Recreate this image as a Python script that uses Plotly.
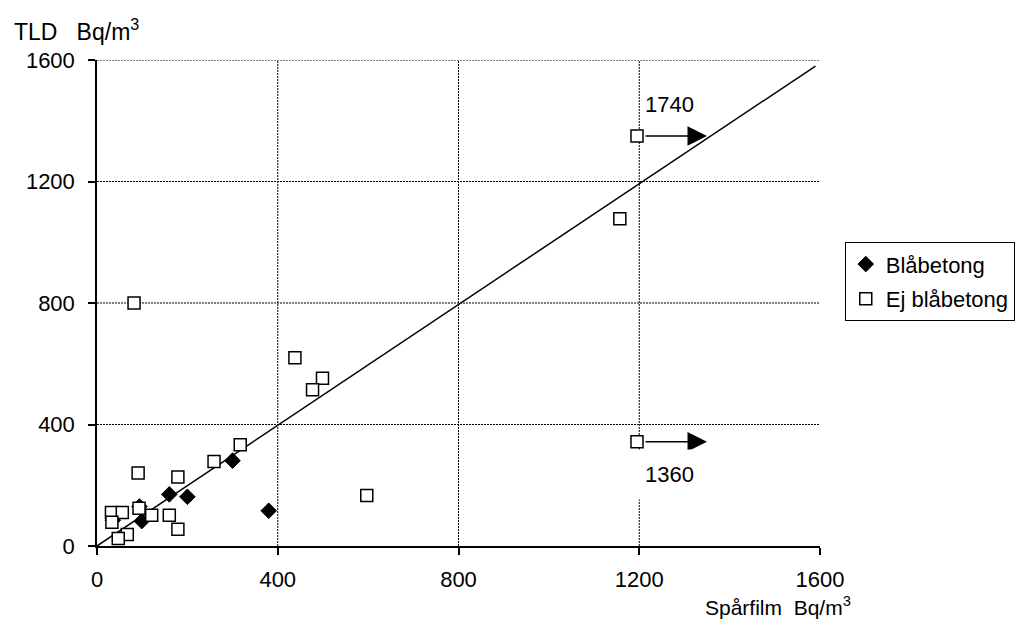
import plotly.graph_objects as go

# Data
bla_x = [300, 160, 200, 380, 99, 94, 35]
bla_y = [281, 170, 162, 116, 82, 130, 85]

ej_x = [82, 438, 499, 477, 317, 259, 91, 179, 597, 93, 121, 160, 179,
        32, 56, 33, 67, 47, 1157, 1195, 1195]
ej_y = [800, 620, 552, 514, 333, 278, 240, 227, 166, 124, 101, 101, 55,
        110, 110, 78, 38, 25, 1077, 1350, 343]

line_x = [0, 1590]
line_y = [0, 1580]

tick_vals = [0, 400, 800, 1200, 1600]
grid_x = [400, 800, 1200]
grid_y = [400, 800, 1200, 1600]

# off-scale points: (x, y, arrow tip x, true value label, label y)
arrow_pts = [(1195, 1350, 1350, "1740", 1455), (1195, 343, 1350, "1360", 237)]

FONT = "Liberation Sans, Arial, sans-serif"
FS = 22

fig = go.Figure()

fig.add_trace(go.Scatter(
    x=line_x, y=line_y, mode="lines", line=dict(color="black", width=1.5),
    showlegend=False, hoverinfo="skip"))

fig.add_trace(go.Scatter(
    x=bla_x, y=bla_y, mode="markers", name="Blåbetong", legendgroup="a",
    marker=dict(symbol="diamond", size=12, color="black",
                line=dict(color="black", width=1))))

fig.add_trace(go.Scatter(
    x=ej_x, y=ej_y, mode="markers", name="Ej blåbetong", legendgroup="b",
    marker=dict(symbol="square", size=12, color="white",
                line=dict(color="black", width=1.5))))

shapes = []
for gx in grid_x:
    shapes.append(dict(type="line", xref="x", yref="y", x0=gx, x1=gx, y0=0, y1=1600,
                       line=dict(color="black", width=1, dash="2px,1px"), layer="below"))
for gy in grid_y:
    shapes.append(dict(type="line", xref="x", yref="y", x0=0, x1=1600, y0=gy, y1=gy,
                       line=dict(color="black", width=1, dash="2px,1px"), layer="below"))

annotations = []
for (px, py, tip, lab, ly) in arrow_pts:
    annotations.append(dict(
        x=tip, y=py, ax=px, ay=py, xref="x", yref="y", axref="x", ayref="y",
        showarrow=True, arrowhead=2, arrowsize=2.6, arrowwidth=1.5,
        arrowcolor="black", startstandoff=7, text=""))
    annotations.append(dict(
        x=1268, y=ly, xref="x", yref="y", text=lab, showarrow=False,
        font=dict(family=FONT, size=FS, color="black"),
        bgcolor="white", borderpad=12 if lab == "1360" else 2))

annotations.append(dict(
    x=-0.1176, y=1.0617, xref="paper", yref="paper", xanchor="left", yanchor="middle",
    text="TLD\u00a0\u00a0\u00a0Bq/m<sup>3</sup>", showarrow=False,
    font=dict(family=FONT, size=23, color="black")))
annotations.append(dict(
    x=1.046, y=-0.124, xref="paper", yref="paper", xanchor="right", yanchor="middle",
    text="Spårfilm\u00a0\u00a0Bq/m<sup>3</sup>", showarrow=False,
    font=dict(family=FONT, size=21, color="black")))

fig.update_layout(
    width=1019, height=626,
    margin=dict(l=97, r=199, t=60, b=80, autoexpand=False),
    paper_bgcolor="white", plot_bgcolor="white",
    font=dict(family=FONT, size=FS, color="black"),
    shapes=shapes, annotations=annotations,
    legend=dict(xref="container", yref="container", x=0.829, y=0.613,
                xanchor="left", yanchor="top",
                bordercolor="black", borderwidth=1, bgcolor="white",
                font=dict(family=FONT, size=FS, color="black"),
                tracegroupgap=3, itemwidth=30),
    xaxis=dict(range=[0, 1600], tickvals=tick_vals, showgrid=False, zeroline=False,
               showline=True, linecolor="black", linewidth=1.5,
               ticks="outside", ticklen=7, tickcolor="black", tickwidth=1.5,
               ticklabelstandoff=6, tickfont=dict(size=FS)),
    yaxis=dict(range=[0, 1600], tickvals=tick_vals, showgrid=False, zeroline=False,
               showline=True, linecolor="black", linewidth=1.5,
               ticks="outside", ticklen=7, tickcolor="black", tickwidth=1.5,
               ticklabelstandoff=9, tickfont=dict(size=FS)),
)

fig.write_html("out.html")
